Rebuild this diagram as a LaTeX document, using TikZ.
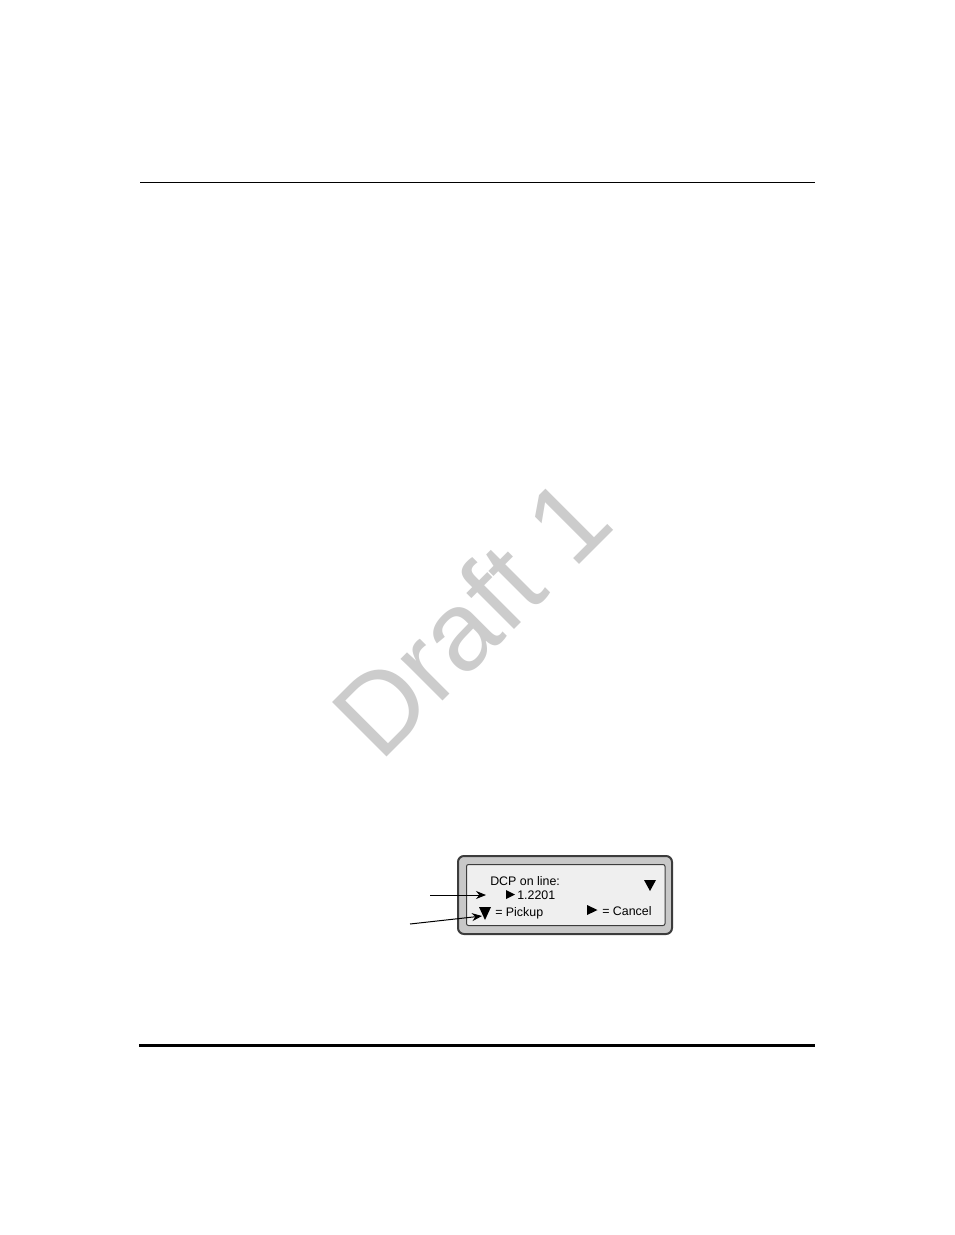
\documentclass[tikz,border=0pt]{standalone}
\usepackage{fontspec}
\setmainfont{Liberation Sans}
\usetikzlibrary{arrows.meta}
\definecolor{bezel}{HTML}{C8C8C8}
\definecolor{lcd}{HTML}{EFEFEF}
\definecolor{rim}{HTML}{3C3C3C}

\begin{document}
\begin{tikzpicture}[x=0.75pt,y=-0.75pt,
        lcdtext/.style={anchor=base west, inner sep=0pt, font=\fontsize{9.3}{11}\selectfont},
        pointer/.style={-{Stealth[length=7.5pt,width=6pt]}, line width=0.75pt}]
        \useasboundingbox (0,0) rectangle (954,1235);
        % page rules
        \draw[line width=0.75pt] (140,182) -- (815,182);
        \draw[line width=2.25pt] (139,1045) -- (815,1045);
        % watermark
        \node[rotate=45, anchor=base, inner sep=0pt, text=gray!40, font=\fontsize{84}{86}\selectfont] (draft) at (499,645) {Draft 1};
        % display
        \draw[rim, line width=1.5pt, fill=bezel, rounded corners=4.5pt] (458,856) rectangle (672,934);
        \draw[rim, line width=0.75pt, fill=lcd, rounded corners=1.5pt] (466.5,864.5) rectangle (665,925.5);
        \node[lcdtext] (caller) at (490,885.5) {DCP on line:};
        \node[lcdtext] (lineno) at (517,899.5) {1.2201};
        \node[lcdtext] (pickup) at (495,916) {= Pickup};
        \node[lcdtext] (cancel) at (602,915) {= Cancel};
        \fill (644,880) -- (656,880) -- (650,891) -- cycle;
        \fill (506,890) -- (515,894.5) -- (506,899) -- cycle;
        \fill (479,907) -- (491,907) -- (485,920) -- cycle;
        \fill (587,905) -- (597.5,910) -- (587,915) -- cycle;
        % pointers
        \coordinate (lineTail) at (430,895);
        \coordinate (lineTip) at (486,895);
        \coordinate (softTail) at (410,924);
        \coordinate (softTip) at (482,916);
        \draw[pointer] (lineTail) -- (lineTip);
        \draw[pointer] (softTail) -- (softTip);
    \end{tikzpicture}
\end{document}
